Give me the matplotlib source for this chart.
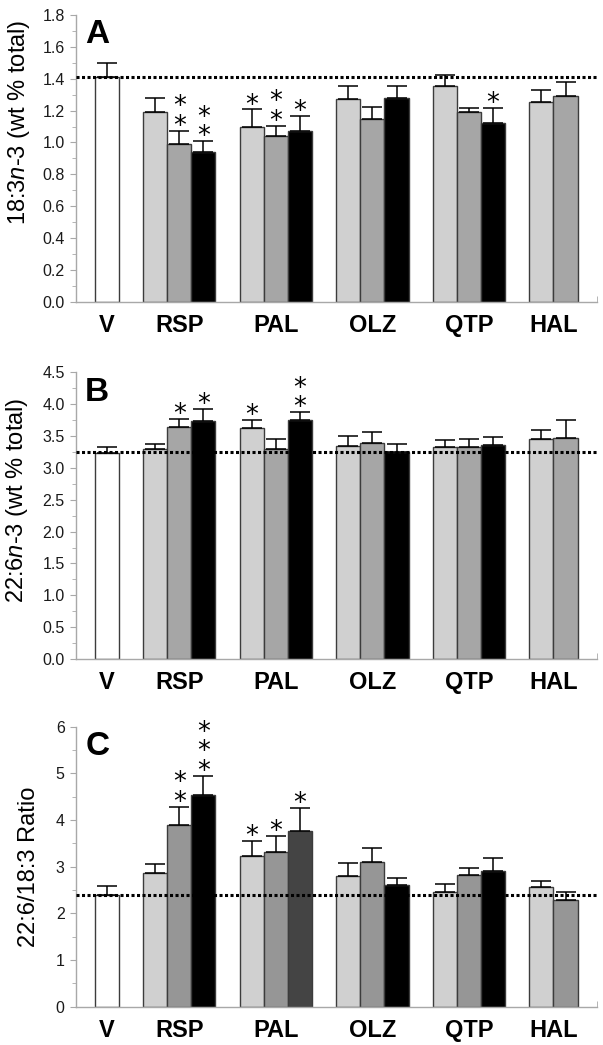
import matplotlib
matplotlib.use("Agg")
import matplotlib.pyplot as plt
from matplotlib.ticker import MultipleLocator, FormatStrFormatter

plt.rcParams['font.family'] = ['Liberation Sans', 'DejaVu Sans']
plt.rcParams['mathtext.fontset'] = 'custom'
plt.rcParams['mathtext.rm'] = 'Liberation Sans'
plt.rcParams['mathtext.it'] = 'Liberation Sans:italic'

groups = ['V', 'RSP', 'PAL', 'OLZ', 'QTP', 'HAL']

A_vals = [[1.41], [1.19, 0.99, 0.94], [1.10, 1.04, 1.07], [1.27, 1.145, 1.28], [1.355, 1.19, 1.125], [1.255, 1.29]]
A_err = [[0.092], [0.088, 0.084, 0.067], [0.107, 0.065, 0.095], [0.084, 0.079, 0.077], [0.071, 0.029, 0.092], [0.073, 0.088]]
A_stars = [[0], [0, 2, 2], [1, 2, 1], [0, 0, 0], [0, 0, 1], [0, 0]]
A_ref = 1.41

B_vals = [[3.23], [3.30, 3.64, 3.74], [3.63, 3.30, 3.75], [3.35, 3.39, 3.25], [3.32, 3.32, 3.355], [3.45, 3.475]]
B_err = [[0.09], [0.07, 0.125, 0.19], [0.12, 0.15, 0.125], [0.15, 0.18, 0.12], [0.125, 0.14, 0.135], [0.14, 0.27]]
B_stars = [[0], [0, 1, 1], [1, 0, 2], [0, 0, 0], [0, 0, 0], [0, 0]]
B_ref = 3.245

C_vals = [[2.40], [2.86, 3.89, 4.54], [3.22, 3.31, 3.76], [2.79, 3.10, 2.60], [2.46, 2.81, 2.91], [2.56, 2.28]]
C_err = [[0.19], [0.19, 0.39, 0.40], [0.33, 0.34, 0.49], [0.285, 0.29, 0.165], [0.16, 0.17, 0.265], [0.13, 0.17]]
C_stars = [[0], [0, 2, 3], [1, 1, 1], [0, 0, 0], [0, 0, 0], [0, 0]]
C_ref = 2.40

LIGHT = '#d0d0d0'
EDGE = '#3c3c3c'
AXC = '#a8a8a8'

panels = [
    dict(vals=A_vals, err=A_err, stars=A_stars, ref=A_ref, ylim=1.8, major=0.2, minor=0.1, fmt='%.1f',
         ylabel='18:3$\\it{n}$-3 (wt % total)', letter='A', rect=[0.1257, 0.7113, 0.8643, 0.2743],
         colors=['#a6a6a6', '#000000'], special=None, labelx=-0.084, labely=0.625),
    dict(vals=B_vals, err=B_err, stars=B_stars, ref=B_ref, ylim=4.5, major=0.5, minor=0.25, fmt='%.1f',
         ylabel='22:6$\\it{n}$-3 (wt % total)', letter='B', rect=[0.1257, 0.3694, 0.8643, 0.2743],
         colors=['#a6a6a6', '#000000'], special=None, labelx=-0.088, labely=0.555),
    dict(vals=C_vals, err=C_err, stars=C_stars, ref=C_ref, ylim=6, major=1, minor=0.5, fmt='%d',
         ylabel='22:6/18:3 Ratio', letter='C', rect=[0.1257, 0.0367, 0.8643, 0.268],
         colors=['#969696', '#000000'], special=(2, 2, '#444444'), labelx=-0.068, labely=0.5),
]

fig = plt.figure(figsize=(6.03, 10.45), dpi=100)

XMAX = 21.58
for p in panels:
    ax = fig.add_axes(p['rect'])
    label_pos = []
    for gi, g in enumerate(groups):
        vals = p['vals'][gi]
        errs = p['err'][gi]
        if gi == 0:
            xs = [1.28]
            cols = ['white']
        else:
            base = 3.28 + 4 * (gi - 1)
            xs = [base + k for k in range(len(vals))]
            cols = ([LIGHT] + p['colors'])[:len(vals)]
            if p['special'] and p['special'][0] == gi:
                cols[p['special'][1]] = p['special'][2]
        label_pos.append(sum(xs) / len(xs))
        ax.bar(xs, vals, width=1.0, color=cols, edgecolor=EDGE, linewidth=1.0, zorder=2)
        ax.errorbar(xs, vals, yerr=[[0] * len(vals), errs], fmt='none', ecolor='black',
                    elinewidth=1.1, capsize=7, capthick=1.1, zorder=3)
        for x, v, e, n in zip(xs, vals, errs, p['stars'][gi]):
            if n:
                ax.annotate('\n'.join(['*'] * n), xy=(x, v + e), xytext=(0, -6.5), textcoords='offset points',
                            ha='center', va='bottom', fontsize=18.5, linespacing=0.68,
                            family='DejaVu Sans', zorder=4)
    ax.axhline(p['ref'], color='black', linestyle=(0, (1.0, 0.8)), linewidth=2.2, zorder=5)
    ax.set_xlim(0, XMAX)
    ax.set_ylim(0, p['ylim'])
    ax.set_xticks(label_pos)
    ax.set_xticklabels(groups, fontsize=17, fontweight='bold')
    ax.tick_params(axis='x', length=0, pad=9)
    ax.set_xticks([XMAX], minor=True)
    ax.tick_params(axis='x', which='minor', direction='in', length=4, color=AXC)
    ax.yaxis.set_major_locator(MultipleLocator(p['major']))
    ax.yaxis.set_minor_locator(MultipleLocator(p['minor']))
    ax.yaxis.set_major_formatter(FormatStrFormatter(p['fmt']))
    ax.tick_params(axis='y', which='major', length=4, color=AXC, labelsize=11.5, pad=4, labelcolor='#1a1a1a')
    ax.tick_params(axis='y', which='minor', length=3, color=AXC)
    for sp in ['top', 'right']:
        ax.spines[sp].set_visible(False)
    for sp in ['left', 'bottom']:
        ax.spines[sp].set_color(AXC)
        ax.spines[sp].set_linewidth(1.0)
    ax.set_ylabel(p['ylabel'], fontsize=17)
    ax.yaxis.set_label_coords(p['labelx'], p['labely'])
    ax.text(0.018, 0.985, p['letter'], transform=ax.transAxes, fontsize=24, fontweight='bold',
            ha='left', va='top')

fig.savefig('out.png', dpi=100)
